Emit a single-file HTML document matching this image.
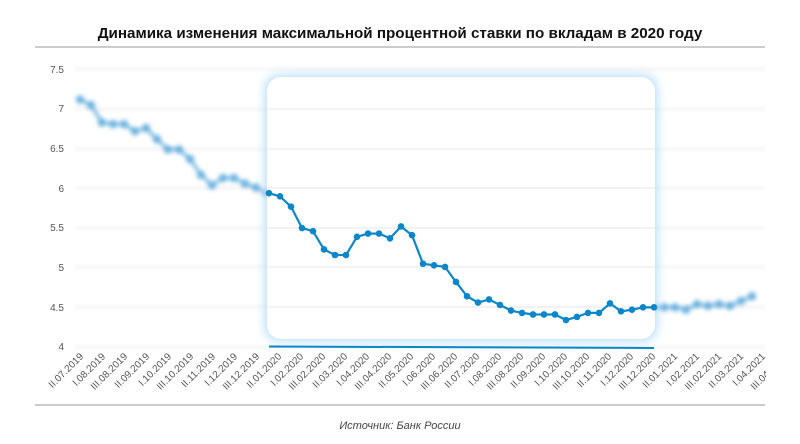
<!DOCTYPE html>
<html><head><meta charset="utf-8"><style>
html,body{margin:0;padding:0;background:#fff;width:800px;height:444px;overflow:hidden}
svg{display:block;font-family:"Liberation Sans",sans-serif}
</style></head><body>
<svg width="800" height="444" viewBox="0 0 800 444" xmlns="http://www.w3.org/2000/svg">
<defs>
<filter id="bl" x="-10%" y="-10%" width="120%" height="120%"><feGaussianBlur stdDeviation="2.2"/></filter>
<filter id="gl" x="-10%" y="-10%" width="120%" height="120%"><feGaussianBlur stdDeviation="5"/></filter>
<filter id="gb" x="-5%" y="-50%" width="110%" height="200%"><feGaussianBlur stdDeviation="1.5"/></filter>
</defs>
<text x="400" y="38" text-anchor="middle" font-size="15.2" font-weight="bold" fill="#111">Динамика изменения максимальной процентной ставки по вкладам в 2020 году</text>
<line x1="35" y1="47" x2="765" y2="47" stroke="#999" stroke-width="1"/>
<g font-size="10" fill="#555" text-anchor="end">
<text x="64" y="73">7.5</text><text x="64" y="112">7</text><text x="64" y="152">6.5</text><text x="64" y="192">6</text><text x="64" y="231">5.5</text><text x="64" y="271">5</text><text x="64" y="311">4.5</text><text x="64" y="350">4</text>
</g>
<g stroke="#eee" stroke-width="2" filter="url(#gb)">
<line x1="75" y1="69" x2="765" y2="69"/><line x1="75" y1="109" x2="765" y2="109"/><line x1="75" y1="149" x2="765" y2="149"/><line x1="75" y1="188" x2="765" y2="188"/><line x1="75" y1="228" x2="765" y2="228"/><line x1="75" y1="267" x2="765" y2="267"/><line x1="75" y1="307" x2="765" y2="307"/><line x1="75" y1="347" x2="765" y2="347"/>
</g>
<g id="series"></g>
<rect x="265" y="75" width="392" height="266" rx="14" fill="#b5ddf7" filter="url(#gl)"/>
<rect x="267" y="77" width="388" height="262" rx="14" fill="#fff"/>
<g stroke="#e6e6e6" stroke-width="1">
<line x1="267" y1="109" x2="655" y2="109"/><line x1="267" y1="149" x2="655" y2="149"/><line x1="267" y1="188" x2="655" y2="188"/><line x1="267" y1="228" x2="655" y2="228"/><line x1="267" y1="267" x2="655" y2="267"/><line x1="267" y1="307" x2="655" y2="307"/>
</g>
<line x1="269" y1="346.5" x2="654" y2="348" stroke="#0a86c9" stroke-width="2"/>
<g id="main"></g>
<g id="labels" font-size="10" fill="#555"></g>
<line x1="35" y1="405" x2="765" y2="405" stroke="#999" stroke-width="1"/>
<text x="400" y="429" text-anchor="middle" font-size="11" font-style="italic" fill="#444">Источник: Банк России</text>
</svg>
<script>
var a=[7.12,7.05,6.83,6.81,6.81,6.72,6.76,6.62,6.49,6.49,6.37,6.17,6.04,6.13,6.13,6.06,6.01];
var b=[5.94,5.90,5.77,5.50,5.46,5.23,5.16,5.16,5.39,5.43,5.43,5.37,5.52,5.41,5.05,5.03,5.01,4.82,4.64,4.56,4.60,4.53,4.46,4.43,4.41,4.41,4.41,4.34,4.38,4.43,4.43,4.55,4.45,4.47,4.50,4.50];
var c=[4.50,4.50,4.50,4.47,4.54,4.52,4.54,4.52,4.58,4.64];
function Y(v){return 347-(v-4)*79.3}
var NS="http://www.w3.org/2000/svg";
function el(p,t,at){var e=document.createElementNS(NS,t);for(var k in at)e.setAttribute(k,at[k]);p.appendChild(e);return e}
function draw(g,vals,x0,col,r,w){var pts=vals.map(function(v,i){return [x0+i*11,Y(v)]});
el(g,"polyline",{points:pts.map(function(p){return p.join(",")}).join(" "),fill:"none",stroke:col,"stroke-width":w});
pts.forEach(function(p){el(g,"circle",{cx:p[0],cy:p[1],r:r,fill:col})});}
var s=document.getElementById("series");
var gs=el(s,"g",{filter:"url(#bl)",opacity:"0.75"});
draw(gs,a.concat([5.94]),80,"#3a9ad6",4.2,3);
draw(gs,[4.50].concat(c.slice(1)),653,"#3a9ad6",4.2,3);
draw(document.getElementById("main"),b,269,"#0a86c9",3.3,2.2);
var L=["II.07.2019","I.08.2019","III.08.2019","II.09.2019","I.10.2019","III.10.2019","II.11.2019","I.12.2019","III.12.2019","II.01.2020","I.02.2020","III.02.2020","II.03.2020","I.04.2020","III.04.2020","II.05.2020","I.06.2020","III.06.2020","II.07.2020","I.08.2020","III.08.2020","II.09.2020","I.10.2020","III.10.2020","II.11.2020","I.12.2020","III.12.2020","II.01.2021","I.02.2021","III.02.2021","II.03.2021","I.04.2021","III.04.2021"];
var lg=document.getElementById("labels");
L.forEach(function(t,i){var x=84+i*22;if(x>790)return;var e=el(lg,"text",{x:x,y:357,"text-anchor":"end",transform:"rotate(-45 "+x+" 357)"});e.textContent=t;});
el(document.querySelector("svg"),"rect",{x:766,y:340,width:40,height:64,fill:"#fff"});
</script>
</body></html>
